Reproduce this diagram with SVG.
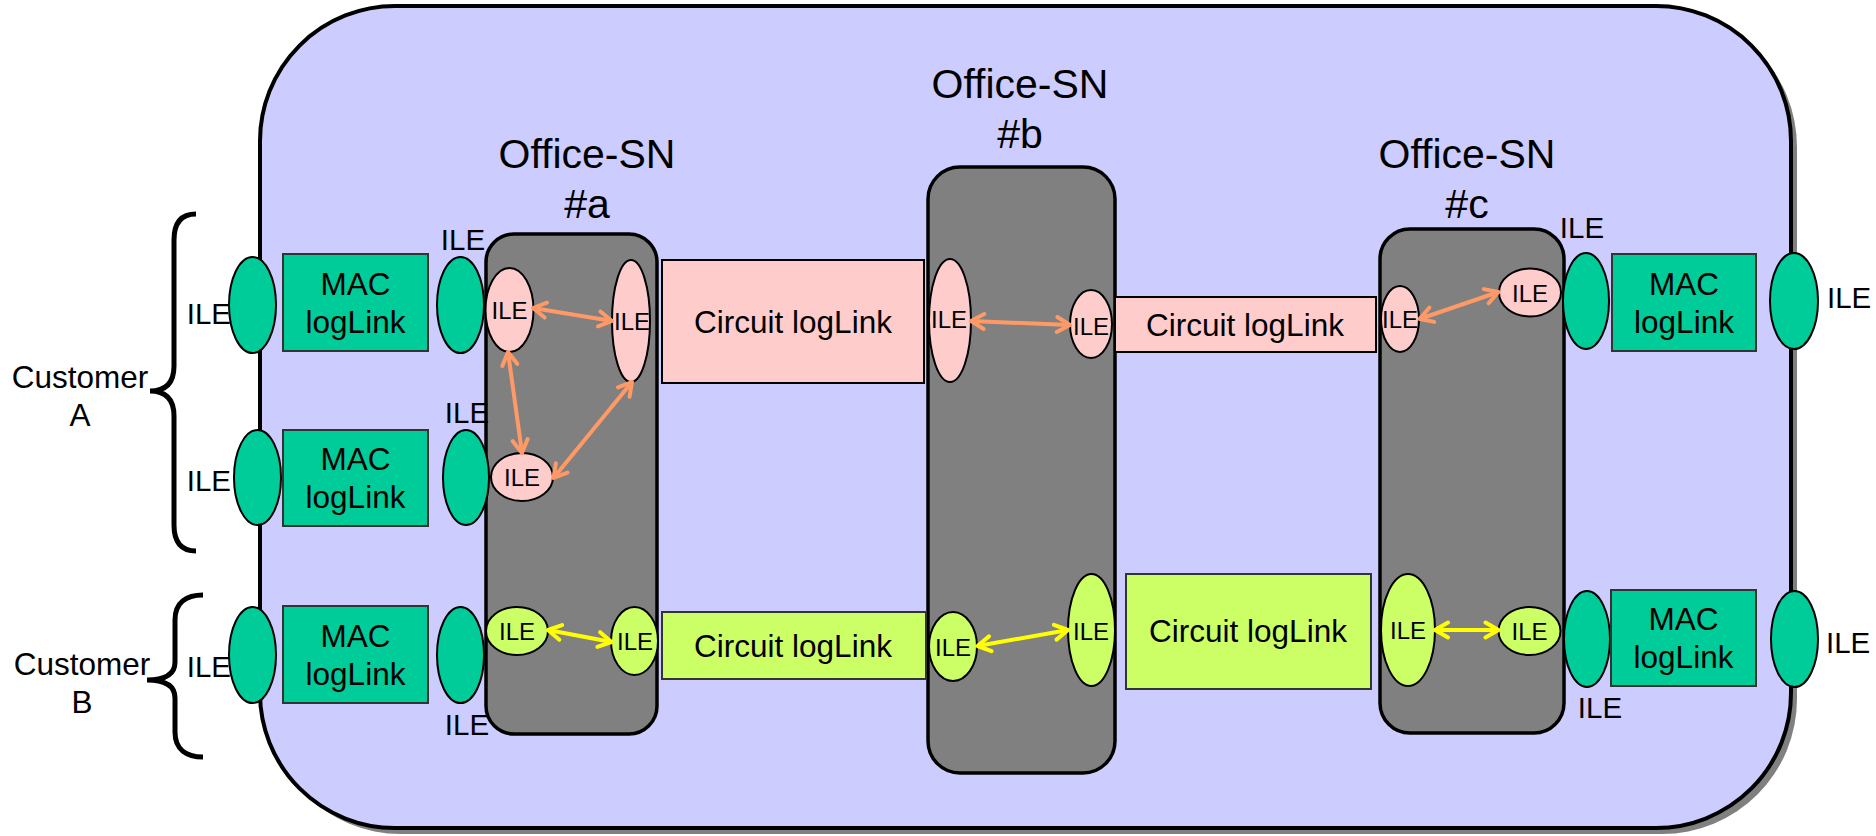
<svg xmlns="http://www.w3.org/2000/svg" width="1876" height="836" viewBox="0 0 1876 836">
<defs>
<style>
text{font-family:"Liberation Sans",Arial,sans-serif;fill:#000}
.big{font-size:29.5px}
.sm{font-size:24px;text-anchor:middle}
.lbl{font-size:31.5px;text-anchor:middle}
.ttl{font-size:41px;text-anchor:middle}
.cust{font-size:31.5px;text-anchor:middle}
.office{fill:#808080;stroke:#000;stroke-width:3.5}
.grn{fill:#00CC99;stroke:#000;stroke-width:2}
.mac{fill:#00CC99;stroke:#333;stroke-width:2}
.pk{fill:#FFCCCC;stroke:#000;stroke-width:2}
.yg{fill:#CCFF66;stroke:#000;stroke-width:2}
.pkbox{fill:#FFCCCC;stroke:#000;stroke-width:2}
.ygbox{fill:#CCFF66;stroke:#333;stroke-width:2}
.brace{fill:none;stroke:#000;stroke-width:5}
.ao{fill:none;stroke:#FF9966;stroke-width:4;marker-start:url(#mo);marker-end:url(#mo)}
.ay{fill:none;stroke:#FFFF00;stroke-width:4;marker-start:url(#my);marker-end:url(#my)}
</style>
<marker id="mo" viewBox="0 0 20 20" refX="17" refY="10" markerWidth="20" markerHeight="20" markerUnits="userSpaceOnUse" orient="auto-start-reverse"><path d="M4,2.5 L17,10 L4,17.5" fill="none" stroke="#FF9966" stroke-width="4" stroke-linecap="round" stroke-linejoin="round"/></marker>
<marker id="my" viewBox="0 0 20 20" refX="17" refY="10" markerWidth="20" markerHeight="20" markerUnits="userSpaceOnUse" orient="auto-start-reverse"><path d="M4,2.5 L17,10 L4,17.5" fill="none" stroke="#FFFF00" stroke-width="4" stroke-linecap="round" stroke-linejoin="round"/></marker>
</defs>

<g id="network">
<rect x="266" y="12" width="1531" height="822" rx="135" fill="#808080"/>
<rect x="260" y="6" width="1531" height="822" rx="135" fill="#CCCCFF" stroke="#000" stroke-width="4"/>
</g>

<g id="customerA">
<path class="brace" d="M196,214 C182,214 174,222 174,240 L174,366 C174,384 165,391 150,391 C165,391 174,398 174,416 L174,525 C174,543 182,551 196,551"/>
<text class="cust" x="80" y="388">Customer</text>
<text class="cust" x="80" y="426">A</text>
</g>
<g id="customerB">
<path class="brace" d="M203,595 C187,595 175,602 175,620 L175,662 C175,674 165,680 147,680 C165,680 175,686 175,698 L175,732 C175,750 187,757 203,757"/>
<text class="cust" x="82" y="675">Customer</text>
<text class="cust" x="82" y="713">B</text>
</g>

<g id="officeA">
<rect class="office" x="486" y="234" width="171" height="500" rx="28"/>
<text class="ttl" x="587" y="168">Office-SN</text>
<text class="ttl" x="587" y="218">#a</text>
</g>
<g id="officeB">
<rect class="office" x="928" y="167" width="187" height="606" rx="32"/>
<text class="ttl" x="1020" y="98">Office-SN</text>
<text class="ttl" x="1020" y="148">#b</text>
</g>
<g id="officeC">
<rect class="office" x="1380" y="229" width="184" height="504" rx="30"/>
<text class="ttl" x="1467" y="168">Office-SN</text>
<text class="ttl" x="1467" y="218">#c</text>
</g>

<!-- Row A1 -->
<g id="ileA1L"><text class="big" x="231" y="324" text-anchor="end">ILE</text><ellipse class="grn" cx="252.5" cy="305" rx="23.5" ry="48"/></g>
<g id="macA1"><rect class="mac" x="283" y="254" width="145" height="97"/><text class="lbl" x="355.5" y="295">MAC</text><text class="lbl" x="355.5" y="333">logLink</text></g>
<g id="ileA1R"><ellipse class="grn" cx="460.5" cy="305" rx="23.5" ry="48"/><text class="big" x="463" y="250" text-anchor="middle">ILE</text></g>

<!-- Row A2 -->
<g id="ileA2L"><text class="big" x="231" y="491" text-anchor="end">ILE</text><ellipse class="grn" cx="257.5" cy="477.5" rx="23.5" ry="47.5"/></g>
<g id="macA2"><rect class="mac" x="283" y="430" width="145" height="96"/><text class="lbl" x="355.5" y="470">MAC</text><text class="lbl" x="355.5" y="508">logLink</text></g>
<g id="ileA2R"><ellipse class="grn" cx="466" cy="477.5" rx="23" ry="47.5"/><text class="big" x="467" y="423" text-anchor="middle">ILE</text></g>

<!-- Row B -->
<g id="ileBL"><text class="big" x="231" y="677" text-anchor="end">ILE</text><ellipse class="grn" cx="252.5" cy="655" rx="23.5" ry="48"/></g>
<g id="macB"><rect class="mac" x="283" y="606" width="145" height="97"/><text class="lbl" x="355.5" y="647">MAC</text><text class="lbl" x="355.5" y="685">logLink</text></g>
<g id="ileBR"><ellipse class="grn" cx="460.5" cy="655" rx="23.5" ry="48"/><text class="big" x="467" y="735" text-anchor="middle">ILE</text></g>

<!-- Office a ILEs -->
<g id="a_p1"><ellipse class="pk" cx="509.5" cy="310" rx="24" ry="42"/><text class="sm" x="509.5" y="319">ILE</text></g>
<g id="a_p2"><ellipse class="pk" cx="631" cy="321" rx="19" ry="61"/><text class="sm" x="632" y="330">ILE</text></g>
<g id="a_p3"><ellipse class="pk" cx="522" cy="477" rx="31" ry="24"/><text class="sm" x="522" y="486">ILE</text></g>
<g id="a_y1"><ellipse class="yg" cx="517" cy="631" rx="31" ry="24"/><text class="sm" x="517" y="640">ILE</text></g>
<g id="a_y2"><ellipse class="yg" cx="634.5" cy="641" rx="23.5" ry="34"/><text class="sm" x="635" y="650">ILE</text></g>

<!-- Circuit links -->
<g id="circP1"><rect class="pkbox" x="662" y="260" width="262" height="123"/><text class="lbl" x="793" y="333">Circuit logLink</text></g>
<g id="circP2"><rect class="pkbox" x="1115" y="297" width="261" height="55"/><text class="lbl" x="1245" y="336">Circuit logLink</text></g>
<g id="circY1"><rect class="ygbox" x="662" y="612" width="264" height="67"/><text class="lbl" x="793" y="657">Circuit logLink</text></g>
<g id="circY2"><rect class="ygbox" x="1126" y="574" width="245" height="115"/><text class="lbl" x="1248" y="642">Circuit logLink</text></g>

<!-- Office b ILEs -->
<g id="b_p1"><ellipse class="pk" cx="950" cy="320.5" rx="21" ry="61.5"/><text class="sm" x="949" y="328">ILE</text></g>
<g id="b_p2"><ellipse class="pk" cx="1091" cy="324" rx="21" ry="34"/><text class="sm" x="1091" y="335">ILE</text></g>
<g id="b_y1"><ellipse class="yg" cx="953" cy="646.5" rx="24" ry="34.5"/><text class="sm" x="953" y="656">ILE</text></g>
<g id="b_y2"><ellipse class="yg" cx="1091.5" cy="630" rx="23.5" ry="56"/><text class="sm" x="1091" y="640">ILE</text></g>

<!-- Office c ILEs -->
<g id="c_p1"><ellipse class="pk" cx="1400" cy="319" rx="19" ry="33"/><text class="sm" x="1400" y="328">ILE</text></g>
<g id="c_p2"><ellipse class="pk" cx="1530" cy="292.5" rx="31" ry="24"/><text class="sm" x="1530" y="302">ILE</text></g>
<g id="c_y1"><ellipse class="yg" cx="1408" cy="630" rx="27" ry="56"/><text class="sm" x="1408" y="639">ILE</text></g>
<g id="c_y2"><ellipse class="yg" cx="1529.5" cy="631" rx="31" ry="24"/><text class="sm" x="1529.5" y="640">ILE</text></g>

<!-- Right side -->
<g id="ileC1L"><ellipse class="grn" cx="1586" cy="301" rx="23" ry="48"/><text class="big" x="1582" y="238" text-anchor="middle">ILE</text></g>
<g id="macC1"><rect class="mac" x="1612" y="254" width="144" height="97"/><text class="lbl" x="1684" y="295">MAC</text><text class="lbl" x="1684" y="333">logLink</text></g>
<g id="ileC1R"><ellipse class="grn" cx="1794" cy="301" rx="24" ry="48"/><text class="big" x="1827" y="308">ILE</text></g>

<g id="ileC2L"><ellipse class="grn" cx="1587" cy="639" rx="23" ry="48"/><text class="big" x="1600" y="718" text-anchor="middle">ILE</text></g>
<g id="macC2"><rect class="mac" x="1611" y="590" width="145" height="96"/><text class="lbl" x="1683.5" y="630">MAC</text><text class="lbl" x="1683.5" y="668">logLink</text></g>
<g id="ileC2R"><ellipse class="grn" cx="1794.5" cy="639" rx="23.5" ry="48"/><text class="big" x="1826" y="653">ILE</text></g>

<g id="connectors">
<line class="ao" x1="533" y1="308" x2="612" y2="321"/>
<line class="ao" x1="508" y1="352" x2="522" y2="453"/>
<line class="ao" x1="632" y1="382" x2="553.5" y2="478"/>
<line class="ao" x1="971" y1="321" x2="1070" y2="325"/>
<line class="ao" x1="1419.5" y1="319" x2="1498.5" y2="292"/>
<line class="ay" x1="548" y1="630" x2="611.5" y2="642"/>
<line class="ay" x1="977.5" y1="646" x2="1068" y2="630"/>
<line class="ay" x1="1435" y1="630" x2="1498.5" y2="630"/>
</g>
</svg>
